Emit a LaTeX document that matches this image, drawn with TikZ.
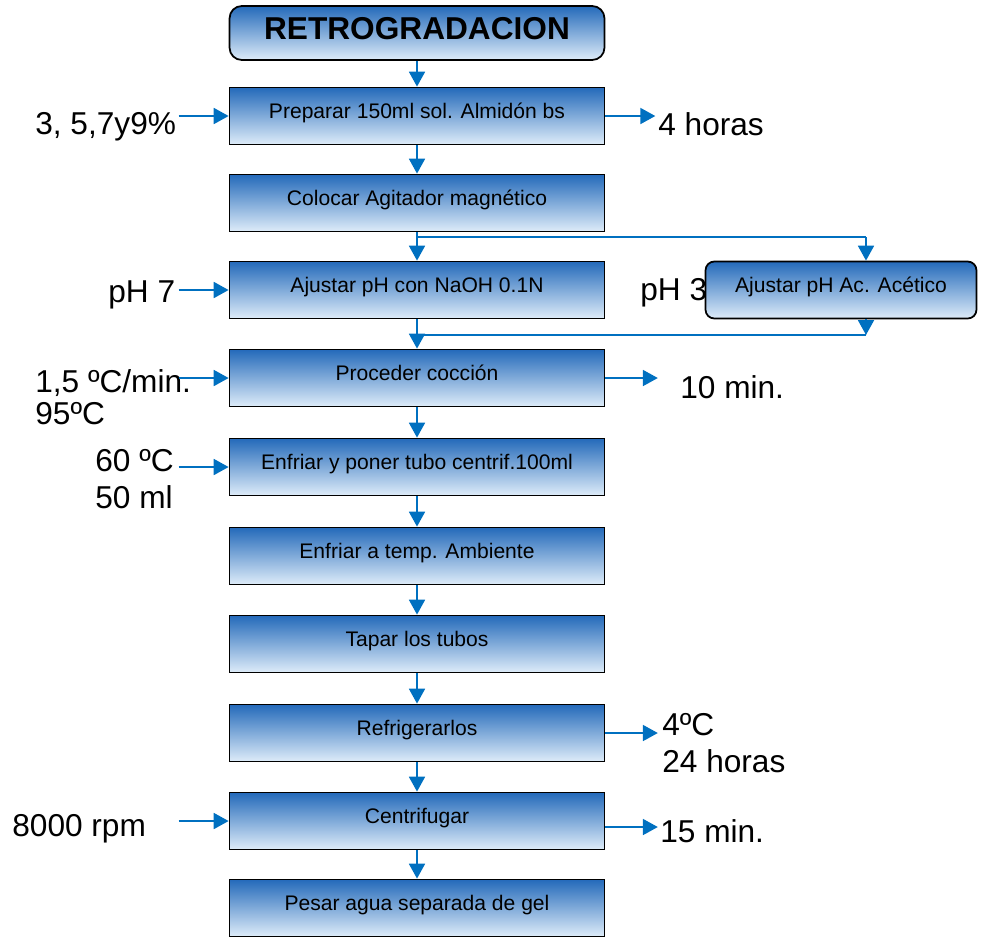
\documentclass[tikz,border=0pt]{standalone}
\usepackage{fontspec}
\setmainfont{Liberation Sans}
\usepackage{xcolor}
\usepackage{tikz}
\usetikzlibrary{arrows.meta,positioning}
\definecolor{flowblue}{RGB}{0,112,192}
\definecolor{boxtop}{RGB}{36,106,186}
\definecolor{boxbot}{RGB}{222,236,249}

\begin{document}
\begin{tikzpicture}[x=0.02cm,y=-0.02cm,
  paso/.style={draw=black,line width=1pt,top color=boxtop,bottom color=boxbot,
    minimum width=7.5cm,minimum height=1.14cm,text height=0.72em,text depth=0.47em,
    font=\fontsize{12}{14}\selectfont},
  titulo/.style={paso,rounded corners=7pt,minimum height=1.08cm,text depth=0pt,
    font=\fontsize{18}{21}\selectfont\bfseries},
  dato/.style={inner sep=0pt,anchor=base west,align=left,font=\fontsize{18}{21}\selectfont},
  arr/.style={draw=flowblue,line width=1.3pt,-{Triangle[length=8.5pt,width=9pt]}},
  lin/.style={draw=flowblue,line width=1.3pt}]
\useasboundingbox (0,0) rectangle (983,938);

\node[titulo] (tit) at (417,33) {RETROGRADACION};
\node[paso] (b1) at (417,116) {Preparar 150ml sol. Almidón bs};
\node[paso] (b2) at (417,203) {Colocar Agitador magnético};
\node[paso] (b3) at (417,290) {Ajustar pH con NaOH 0.1N};
\node[paso,rounded corners=5pt,minimum width=5.42cm] (b3b) at (841,290) {Ajustar pH Ac. Acético};
\node[paso] (b4) at (417,378) {Proceder cocción};
\node[paso] (b5) at (417,467) {Enfriar y poner tubo centrif.100ml};
\node[paso] (b6) at (417,556) {Enfriar a temp. Ambiente};
\node[paso] (b7) at (417,644) {Tapar los tubos};
\node[paso] (b8) at (417,733) {Refrigerarlos};
\node[paso] (b9) at (417,821) {Centrifugar};
\node[paso] (b10) at (417,908) {Pesar agua separada de gel};

% datos de entrada
\node[dato] (e1) at (35,134) {3, 5,7y9\%};
\node[dato] (e3) at (108,302) {pH 7};
\node[dato] (e3b) at (640,300) {pH 3};
\node[dato] (e4) at (35,424) {1,5 ºC/min.\\[-3pt]95ºC};
\node[dato] (e5) at (95,508) {60 ºC\\50 ml};
\node[dato] (e9) at (12,836) {8000 rpm};

% datos de salida
\node[dato] (s1) at (658,135) {4 horas};
\node[dato] (s4) at (680,398) {10 min.};
\node[dato] (s8) at (662,772) {4ºC\\24 horas};
\node[dato] (s9) at (660,842) {15 min.};

% flujo principal
\draw[arr] (tit.south) -- (b1.north);
\draw[arr] (b1.south) -- (b2.north);
\draw[arr] (b2.south) -- (b3.north);
\draw[arr] (b3.south) -- (b4.north);
\draw[arr] (b4.south) -- (b5.north);
\draw[arr] (b5.south) -- (b6.north);
\draw[arr] (b6.south) -- (b7.north);
\draw[arr] (b7.south) -- (b8.north);
\draw[arr] (b8.south) -- (b9.north);
\draw[arr] (b9.south) -- (b10.north);

% desvio pH 3
\coordinate (r1) at (417,237);
\coordinate (r2) at (417,335);
\coordinate (r3) at (866,237);
\coordinate (r4) at (866,335);
\draw[lin] (r1) -- (r3);
\draw[arr] (r3) -- (r3 |- b3b.north);
\draw[arr] (r4 |- b3b.south) -- (r4);
\draw[lin] (r4) -- (r2);

% flechas laterales
\draw[arr] ([xshift=-1cm]b1.west) -- (b1.west);
\draw[arr] ([xshift=-1cm]b3.west) -- (b3.west);
\draw[arr] ([xshift=-1cm]b4.west) -- (b4.west);
\draw[arr] ([xshift=-1cm]b5.west) -- (b5.west);
\draw[arr] ([xshift=-1cm]b9.west) -- (b9.west);
\draw[arr] (b1.east) -- ([xshift=1cm]b1.east);
\draw[arr] (b4.east) -- ([xshift=1.05cm]b4.east);
\draw[arr] (b8.east) -- ([xshift=1.05cm]b8.east);
\draw[arr] ([yshift=-0.12cm]b9.east) -- ([xshift=1.05cm,yshift=-0.12cm]b9.east);
\end{tikzpicture}
\end{document}
